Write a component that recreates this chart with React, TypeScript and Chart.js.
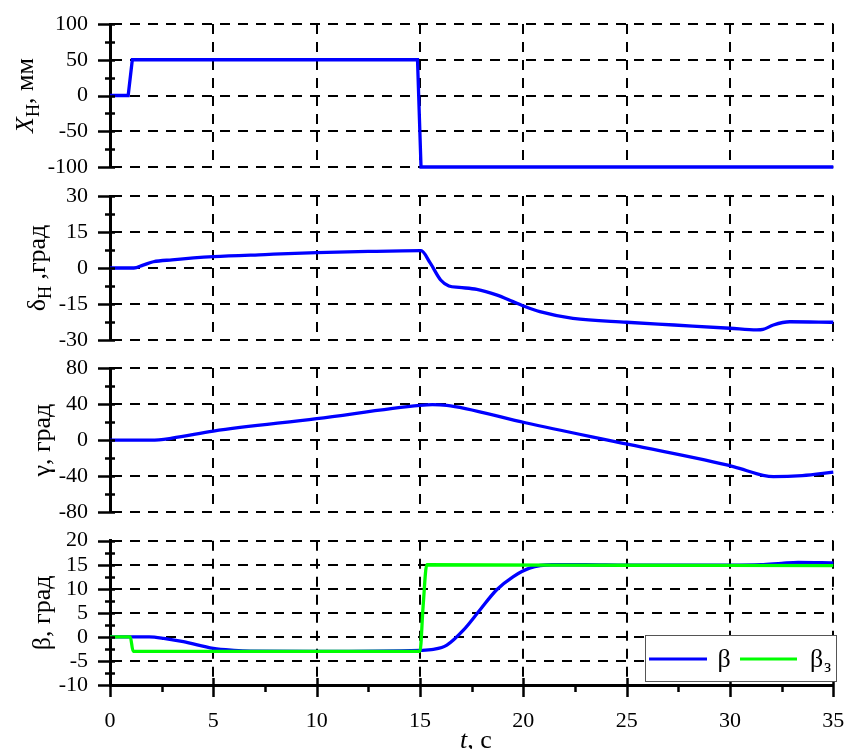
import React, { useEffect, useRef } from "react";
import { Chart, registerables } from "chart.js";
Chart.register(...registerables);

// ---------------- data ----------------
const tXH = [0, 0.88, 1.08, 14.88, 15.05, 35];
const xHValues = [0, 0, 50, 50, -100, -100];

const tDelta = [0, 1.15, 1.6, 2.1, 3, 5, 7.5, 10, 12.5, 15.05, 15.5, 16.0, 16.4, 16.9, 17.75, 18.7, 19.5, 20.0, 20.8, 22.4, 25, 27.3, 30, 31.3, 31.6, 32.1, 32.9, 35];
const deltaValues = [0, 0, 1.2, 2.6, 3.4, 4.7, 5.6, 6.4, 6.9, 7.2, 2, -5, -7.5, -8.1, -8.9, -11.2, -14, -15.8, -18.2, -21, -22.6, -23.75, -25.1, -25.8, -25.6, -23.75, -22.4, -22.6];

const tGamma = [0, 2.0, 3.0, 5, 10, 15, 15.6, 16.3, 17.2, 20.1, 25.1, 30.2, 31.6, 32.1, 33.5, 35];
const gammaValues = [0, 0, 2.2, 10, 23.8, 38.5, 39.3, 38.5, 35, 19.3, -4.8, -29.6, -39, -40.5, -39.3, -35.5];

const tBeta = [0, 1.9, 2.6, 3.55, 5.0, 6.0, 6.8, 10, 15, 15.65, 16.3, 17.1, 17.9, 18.7, 19.5, 20.3, 21.4, 23, 25, 30, 31.5, 32.5, 33.3, 35];
const betaValues = [0, 0, -0.3, -1.0, -2.4, -2.8, -2.95, -3.0, -2.8, -2.6, -1.7, 1.4, 5.6, 9.75, 12.5, 14.3, 15, 15, 14.9, 14.9, 15, 15.3, 15.5, 15.4];

const tBetaZ = [0, 0.98, 1.12, 15.0, 15.15, 15.33, 25, 35];
const betaZValues = [0, 0, -3, -3, 6.3, 15, 14.9, 14.8];

const yMinValues = [-100, -30, -80, -10];
const yMaxValues = [100, 30, 80, 20];
const yStepValues = [50, 15, 40, 5];
const xMinValue = 0;
const xMaxValue = 35;
const xStepValue = 5;

const seriesNames = ["β", "βз"];
const xTitle = [["t", "i"], [", c", ""]];
const yTitles = [
  [["X", "i"], ["Н", "s"], [", мм", ""]],
  [["δ", ""], ["Н", "s"], [" ,град", ""]],
  [["γ, град", ""]],
  [["β, град", ""]],
];

// ---------------- layout ----------------
const W = 844;
const H = 749;
const PLOT_LEFT = 110;
const PLOT_RIGHT = 833.3;
const PANEL_TOP = [24, 196, 368, 540.7];
const PANEL_BOTTOM = [167, 340, 512.3, 685];
const TITLE_X = [33, 45, 50, 50];
const FONT = '"Liberation Serif", "Times New Roman", serif';
const BLUE = "#0000ff";
const GREEN = "#00ff00";

Chart.defaults.font.family = FONT;
Chart.defaults.font.size = 22;
Chart.defaults.color = "#000";

const pts = (ts: number[], vs: number[]) => ts.map((t, i) => ({ x: t, y: vs[i] }));

function fontFor(kind: string, size: number) {
  if (kind === "i") return `italic ${size}px ${FONT}`;
  if (kind === "s") return `${Math.round(size * 0.7)}px ${FONT}`;
  return `${size}px ${FONT}`;
}

function drawRich(ctx: CanvasRenderingContext2D, segs: string[][], size: number, cx: number, baseline: number, rotate: boolean) {
  ctx.save();
  let total = 0;
  for (const [t, k] of segs) {
    ctx.font = fontFor(k, size);
    total += ctx.measureText(t).width;
  }
  ctx.translate(cx, baseline);
  if (rotate) ctx.rotate(-Math.PI / 2);
  ctx.fillStyle = "#000";
  ctx.textBaseline = "alphabetic";
  ctx.textAlign = "left";
  let x = -total / 2;
  for (const [t, k] of segs) {
    ctx.font = fontFor(k, size);
    ctx.fillText(t, x, k === "s" ? size * 0.22 : 0);
    x += ctx.measureText(t).width;
  }
  ctx.restore();
}

function makeDecor(idx: number) {
  return {
    id: "decor" + idx,
    afterDraw(chart: any) {
      const ctx: CanvasRenderingContext2D = chart.ctx;
      const ys = chart.scales.y;
      const xs = chart.scales.x;
      const ax = chart.chartArea.left;
      ctx.save();
      ctx.strokeStyle = "#000";
      ctx.lineWidth = 2.5;
      ctx.setLineDash([]);
      const yMin = yMinValues[idx];
      const yMax = yMaxValues[idx];
      const st = yStepValues[idx];
      for (let k = 0; yMin + (k * st) / 2 <= yMax + 1e-9; k++) {
        const v = yMin + (k * st) / 2;
        const p = Math.round(ys.getPixelForValue(v)) + 0.5;
        const major = k % 2 === 0;
        ctx.beginPath();
        ctx.moveTo(major ? ax - 12 : ax - 5, p);
        ctx.lineTo(ax + 5, p);
        ctx.stroke();
      }
      if (idx === 3) {
        const by = chart.chartArea.bottom;
        for (let k = 0; xMinValue + (k * xStepValue) / 2 <= xMaxValue + 1e-9; k++) {
          const v = xMinValue + (k * xStepValue) / 2;
          const p = Math.round(xs.getPixelForValue(v)) + 0.5;
          const major = k % 2 === 0;
          ctx.beginPath();
          ctx.moveTo(p, major ? by - 7 : by);
          ctx.lineTo(p, major ? by + 12 : by + 7);
          ctx.stroke();
        }
        // legend
        const lx = 645.5, ly = 635.5, lw = 191, lh = 46;
        ctx.fillStyle = "#fff";
        ctx.fillRect(lx, ly, lw, lh);
        ctx.lineWidth = 1;
        ctx.strokeStyle = "#555";
        ctx.strokeRect(lx, ly, lw, lh);
        ctx.lineWidth = 3.2;
        ctx.strokeStyle = BLUE;
        ctx.beginPath();
        ctx.moveTo(649, 659);
        ctx.lineTo(707, 659);
        ctx.stroke();
        ctx.strokeStyle = GREEN;
        ctx.beginPath();
        ctx.moveTo(740, 659);
        ctx.lineTo(797, 659);
        ctx.stroke();
        ctx.fillStyle = "#000";
        ctx.textAlign = "left";
        ctx.textBaseline = "alphabetic";
        ctx.font = `26px ${FONT}`;
        ctx.fillText(seriesNames[0], 717.5, 667);
        ctx.fillText(seriesNames[1].slice(0, 1), 810, 667);
        ctx.font = `18px ${FONT}`;
        ctx.fillText(seriesNames[1].slice(1), 824, 672);
        drawRich(ctx, xTitle, 26, 476, 748, false);
      }
      const cy = (PANEL_TOP[idx] + PANEL_BOTTOM[idx]) / 2;
      ctx.save();
      ctx.translate(TITLE_X[idx], cy);
      drawRich(ctx, yTitles[idx], 26, 0, 0, true);
      ctx.restore();
      ctx.restore();
    },
  };
}

function datasetsFor(idx: number) {
  const base = {
    borderWidth: 3.3,
    pointRadius: 0,
    cubicInterpolationMode: "monotone" as const,
    clip: 6,
    fill: false,
  };
  if (idx === 0) return [{ ...base, data: pts(tXH, xHValues), borderColor: BLUE, cubicInterpolationMode: "default" as const, tension: 0 }];
  if (idx === 1) return [{ ...base, data: pts(tDelta, deltaValues), borderColor: BLUE }];
  if (idx === 2) return [{ ...base, data: pts(tGamma, gammaValues), borderColor: BLUE }];
  return [
    { ...base, data: pts(tBetaZ, betaZValues), borderColor: GREEN },
    { ...base, data: pts(tBeta, betaValues), borderColor: BLUE },
  ];
}

function Panel({ idx }: { idx: number }) {
  const ref = useRef<HTMLCanvasElement | null>(null);
  useEffect(() => {
    if (!ref.current) return;
    const last = idx === 3;
    const xAxisH = last ? H - PANEL_BOTTOM[idx] : 0;
    const tickFont = { family: FONT, size: 22 };
    const chart = new Chart(ref.current, {
      type: "line",
      data: { datasets: datasetsFor(idx) as any },
      options: {
        animation: false,
        responsive: false,
        maintainAspectRatio: false,
        devicePixelRatio: 1,
        layout: {
          padding: { left: 0, right: W - PLOT_RIGHT, top: PANEL_TOP[idx], bottom: H - PANEL_BOTTOM[idx] - xAxisH },
        },
        plugins: { legend: { display: false }, tooltip: { enabled: false } },
        scales: {
          x: {
            type: "linear",
            min: xMinValue,
            max: xMaxValue,
            afterFit: (s: any) => {
              s.height = xAxisH;
              s.paddingLeft = 0;
              s.paddingRight = 0;
            },
            ticks: {
              stepSize: xStepValue,
              display: last,
              color: "#000",
              font: tickFont,
              padding: 23,
              maxRotation: 0,
              minRotation: 0,
              autoSkip: false,
            },
            grid: { color: "#000", lineWidth: 2, drawTicks: false },
            border: { display: last, color: "#000", width: 3, dash: [10, 8] },
          },
          y: {
            type: "linear",
            min: yMinValues[idx],
            max: yMaxValues[idx],
            afterFit: (s: any) => {
              s.width = PLOT_LEFT;
              s.paddingTop = 0;
              s.paddingBottom = 0;
            },
            ticks: {
              stepSize: yStepValues[idx],
              color: "#000",
              font: tickFont,
              padding: 22,
              autoSkip: false,
            },
            grid: { color: "#000", lineWidth: 2, drawTicks: false },
            border: { display: true, color: "#000", width: 3, dash: [10, 8] },
          },
        },
      } as any,
      plugins: [makeDecor(idx)],
    });
    return () => chart.destroy();
  }, [idx]);
  return (
    <canvas
      ref={ref}
      width={W}
      height={H}
      style={{ position: "absolute", left: 0, top: 0, width: W, height: H }}
    />
  );
}

export default function App() {
  return (
    <div style={{ position: "absolute", left: 0, top: 0, width: W, height: H, background: "#fff", overflow: "hidden" }}>
      {[0, 1, 2, 3].map((i) => (
        <Panel key={i} idx={i} />
      ))}
    </div>
  );
}
